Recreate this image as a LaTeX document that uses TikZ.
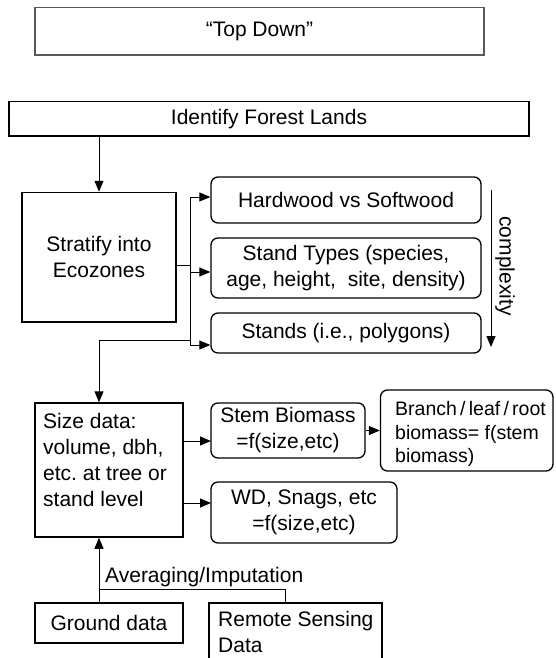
\documentclass[tikz,border=0pt]{standalone}
\usepackage{fontspec}
\setmainfont{Liberation Sans}
\usetikzlibrary{arrows.meta}
\begin{document}
\frenchspacing
\begin{tikzpicture}[x=1pt,y=-1pt,
  every node/.style={font=\fontsize{21}{26}\selectfont, inner sep=0pt},
  sqbox/.style={draw, line width=1.5pt, rectangle},
  rbox/.style={draw, line width=1.3pt, rounded corners=7pt},
  conn/.style={line width=1pt},
  arr/.style={conn, -{Triangle[length=11pt,width=9pt]}},
  smalltext/.style={font=\fontsize{19.5}{23.5}\selectfont},
]
\useasboundingbox (0,0) rectangle (555,658);
\clip (0,0) rectangle (555,658);

% header boxes
\node[sqbox, draw=black!65, line width=1.2pt, minimum width=449pt, minimum height=47.5pt] (topdown) at (259.5,31.25) {“Top Down”};
\node[sqbox, minimum width=520pt, minimum height=34.5pt] (identify) at (269,118.75) {Identify Forest Lands};

% stratification
\node[sqbox, minimum width=154pt, minimum height=129.5pt, align=center] (stratify) at (99,257.25) {Stratify into\\Ecozones};
\node[rbox, minimum width=270pt, minimum height=46pt] (hardwood) at (346,200) {Hardwood vs Softwood};
\node[rbox, minimum width=270pt, minimum height=60pt, align=center] (standtypes) at (346,268) {Stand Types (species,\\age, height,\ \ site, density)};
\node[rbox, minimum width=270pt, minimum height=40pt] (stands) at (346,333) {Stands (i.e., polygons)};

% complexity scale
\coordinate (cxtop) at (491,190);
\coordinate (cxbot) at (491,347);
\draw[arr] (cxtop) -- (cxbot);
\node[rotate=-90] (complexity) at (505,266) {complexity};

\draw[arr] (identify.south -| stratify.north) -- (stratify.north);

% branching spine
\coordinate (sptop) at (190,197);
\coordinate (spmid) at (190,265);
\coordinate (spst) at (190,272);
\coordinate (spout) at (190,340);
\coordinate (spbot) at (190,345);
\draw[conn] (stratify.east |- spmid) -- (spmid);
\draw[conn] (sptop) -- (spbot);
\draw[arr] (sptop) -- (sptop -| hardwood.west);
\draw[arr] (spst) -- (spst -| standtypes.west);
\draw[arr] (spbot) -- (spbot -| stands.west);

% size data
\node[sqbox, minimum width=148pt, minimum height=134pt] (size) at (109,470) {};
\node[anchor=north west, align=left] (sizetext) at (43,413.5) {Size data:\\volume, dbh,\\etc. at tree or\\stand level};
\draw[arr] (spout) -| (stratify.south |- size.north);

% biomass boxes
\node[rbox, minimum width=154pt, minimum height=55pt, align=center] (stem) at (288,430.5) {Stem Biomass\\=f(size,etc)};
\node[rbox, minimum width=172.5pt, minimum height=81pt] (branch) at (466.75,430.5) {};
\node[smalltext, anchor=north west, align=left] (branchtext) at (395,401.5) {Branch\,/\,leaf\,/\,root\\biomass= f(stem\\biomass)};
\node[rbox, minimum width=186pt, minimum height=61pt, align=center] (wd) at (304,512.5) {WD, Snags, etc\\=f(size,etc)};

\coordinate (stemin) at (211,441);
\coordinate (wdin) at (211,503);
\draw[arr] (size.east |- stemin) -- (stemin);
\draw[arr] (size.east |- wdin) -- (wdin);
\draw[arr] (stem.east) -- (stem.east -| branch.west);

% data sources
\node[sqbox, minimum width=148pt, minimum height=40pt] (ground) at (109,623) {Ground data};
\node[sqbox, minimum width=173pt, minimum height=72pt] (remote) at (295.5,639) {};
\node[anchor=north west, align=left] (remotetext) at (218,610.7) {Remote Sensing\\Data};

\coordinate (avgjoin) at (99,589);
\coordinate (avgright) at (285,589);
\draw[arr] (ground.north -| avgjoin) -- (size.south -| avgjoin);
\draw[conn] (avgjoin) -- (avgright) -- (avgright |- remote.north);
\node[anchor=base west] (avglabel) at (105,582) {Averaging/Imputation};
\end{tikzpicture}
\end{document}
